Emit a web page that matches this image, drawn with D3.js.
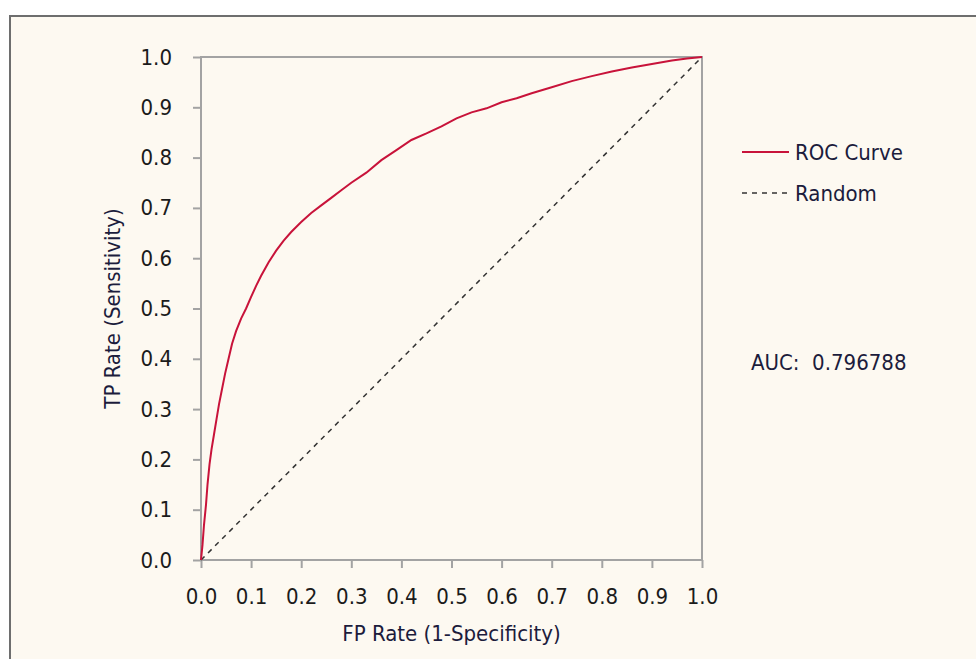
<!DOCTYPE html>
<html lang="en">
<head>
<meta charset="utf-8">
<title>ROC Curve</title>
<script src="https://d3js.org/d3.v7.min.js"></script>
<style>
  body { margin: 0; background: #ffffff; }
  svg { display: block; }
  text { font-family: "DejaVu Sans Condensed", "DejaVu Sans", sans-serif; }
</style>
</head>
<body>
<div id="chart"></div>
<script>
// ROC curve points (FP rate, TP rate)
const fpRate = [0, 0.003, 0.006, 0.01, 0.013, 0.017, 0.021, 0.026, 0.031, 0.036, 0.042, 0.048,
  0.055, 0.062, 0.07, 0.08, 0.09, 0.1, 0.11, 0.12, 0.135, 0.15, 0.165, 0.18, 0.2, 0.22, 0.24,
  0.26, 0.28, 0.3, 0.33, 0.36, 0.39, 0.42, 0.45, 0.48, 0.51, 0.54, 0.57, 0.6, 0.63, 0.66,
  0.7, 0.74, 0.78, 0.82, 0.86, 0.9, 0.94, 0.97, 1.0];
const tpRate = [0, 0.03, 0.07, 0.11, 0.15, 0.19, 0.22, 0.25, 0.28, 0.31, 0.34, 0.37,
  0.40, 0.43, 0.455, 0.48, 0.50, 0.523, 0.545, 0.565, 0.592, 0.615, 0.635, 0.652, 0.672, 0.69, 0.705,
  0.72, 0.735, 0.75, 0.77, 0.795, 0.815, 0.835, 0.848, 0.862, 0.878, 0.89, 0.898, 0.91, 0.918, 0.928,
  0.94, 0.952, 0.962, 0.971, 0.979, 0.986, 0.993, 0.997, 1.0];
const randomLine = [[0, 0], [1, 1]];
const ticks = [0, 0.1, 0.2, 0.3, 0.4, 0.5, 0.6, 0.7, 0.8, 0.9, 1.0];
const legendItems = ["ROC Curve", "Random"];
const aucValue = "0.796788";

const width = 976, height = 659;
const svg = d3.select("#chart").append("svg")
  .attr("width", width)
  .attr("height", height);

/* panel frame */
svg.append("rect")
  .attr("x", 10).attr("y", 16)
  .attr("width", width + 20).attr("height", height + 20)
  .attr("fill", "#fdf9f1")
  .attr("stroke", "#6e6e6e")
  .attr("stroke-width", 2);

const x = d3.scaleLinear().domain([0, 1]).range([201, 702]);
const y = d3.scaleLinear().domain([0, 1]).range([560, 57]);
const axisColor = "#a3a3a3";
const fontSize = 22;

/* plot box */
svg.append("rect")
  .attr("x", x(0)).attr("y", y(1))
  .attr("width", x(1) - x(0)).attr("height", y(0) - y(1))
  .attr("fill", "none")
  .attr("stroke", axisColor)
  .attr("stroke-width", 2);

/* axes */
const xAxis = svg.append("g")
  .attr("transform", `translate(0,${y(0)})`)
  .call(d3.axisBottom(x).tickValues(ticks).tickFormat(d3.format(".1f")).tickSize(8).tickPadding(20));
const yAxis = svg.append("g")
  .attr("transform", `translate(${x(0)},0)`)
  .call(d3.axisLeft(y).tickValues(ticks).tickFormat(d3.format(".1f")).tickSize(8).tickPadding(21));

[xAxis, yAxis].forEach(g => {
  g.select(".domain").remove();
  g.selectAll("line").attr("stroke", axisColor).attr("stroke-width", 2);
  g.selectAll("text")
    .attr("fill", "#1b1b1b")
    .attr("font-size", fontSize)
    .attr("font-family", '"DejaVu Sans Condensed", "DejaVu Sans", sans-serif');
});

/* axis titles */
svg.append("text")
  .attr("x", (x(0) + x(1)) / 2)
  .attr("y", 641)
  .attr("text-anchor", "middle")
  .attr("font-size", fontSize)
  .attr("fill", "#1c1c3c")
  .text("FP Rate (1-Specificity)");

svg.append("text")
  .attr("transform", `translate(120,${(y(0) + y(1)) / 2}) rotate(-90)`)
  .attr("text-anchor", "middle")
  .attr("font-size", fontSize)
  .attr("fill", "#1c1c3c")
  .text("TP Rate (Sensitivity)");

/* random diagonal */
const line = d3.line().x(d => x(d[0])).y(d => y(d[1]));
svg.append("path")
  .datum(randomLine)
  .attr("d", line)
  .attr("fill", "none")
  .attr("stroke", "#333333")
  .attr("stroke-width", 1.5)
  .attr("stroke-dasharray", "5,5");

/* roc curve */
const rocData = fpRate.map((f, i) => [f, tpRate[i]]);
svg.append("path")
  .datum(rocData)
  .attr("d", line)
  .attr("fill", "none")
  .attr("stroke", "#c8133a")
  .attr("stroke-width", 2);

/* legend */
const legend = svg.append("g").attr("transform", "translate(742,152)");
legendItems.forEach((name, i) => {
  const g = legend.append("g").attr("transform", `translate(0,${i * 41})`);
  g.append("line")
    .attr("x1", 0).attr("x2", 47)
    .attr("stroke", i === 0 ? "#c8133a" : "#333333")
    .attr("stroke-width", i === 0 ? 2 : 1.5)
    .attr("stroke-dasharray", i === 0 ? null : "5,5");
  g.append("text")
    .attr("x", 53).attr("y", 8)
    .attr("font-size", fontSize)
    .attr("fill", "#1c1c3c")
    .text(name);
});

svg.append("text")
  .attr("x", 751).attr("y", 370)
  .attr("font-size", fontSize)
  .attr("fill", "#1c1c3c")
  .attr("xml:space", "preserve")
  .style("white-space", "pre")
  .text("AUC:  " + aucValue);
</script>
</body>
</html>
